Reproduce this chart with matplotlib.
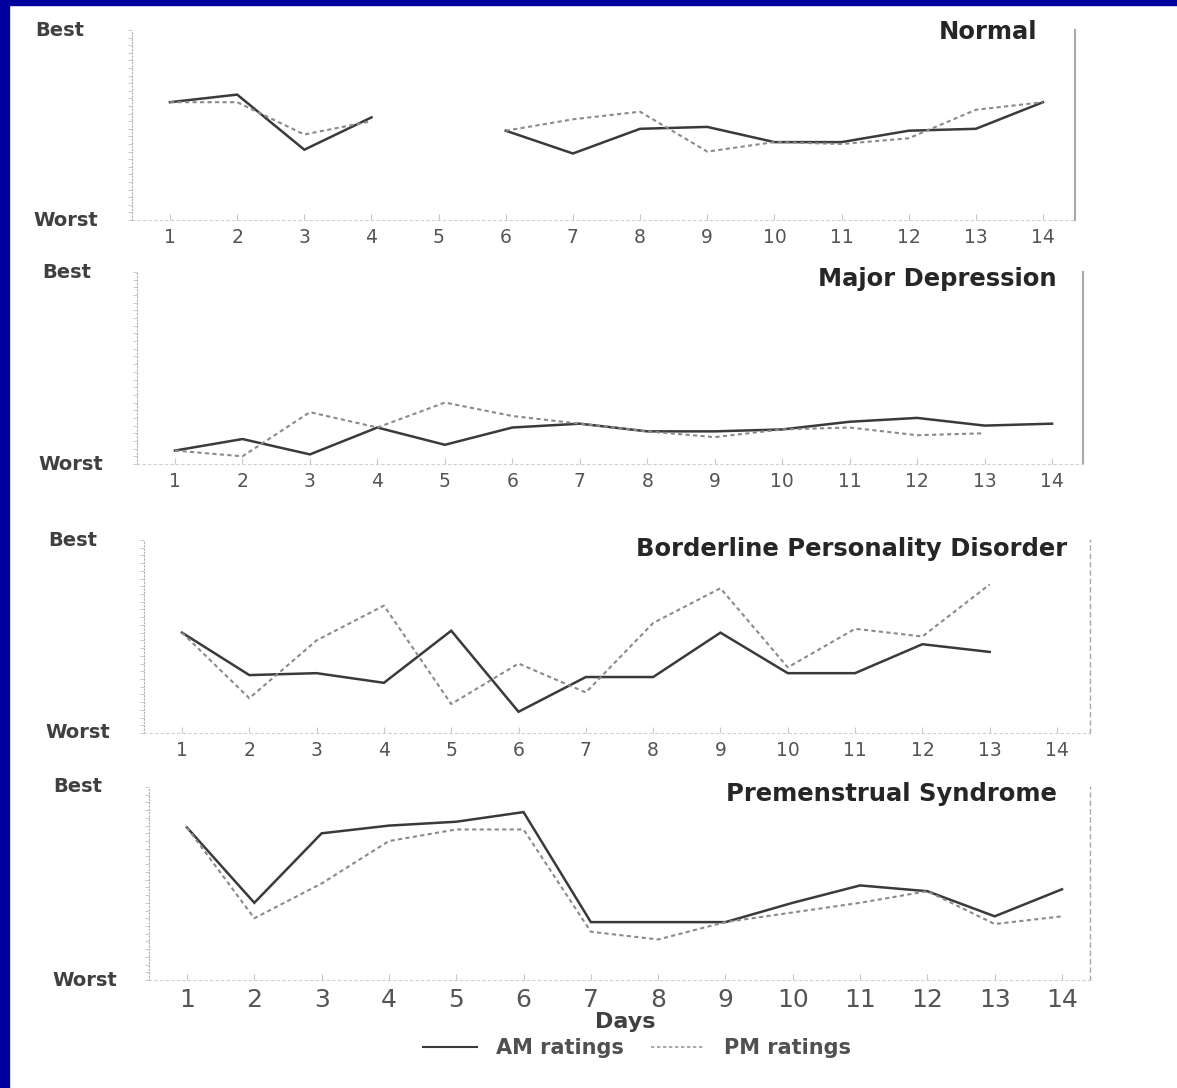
import matplotlib.pyplot as plt
import numpy as np
from matplotlib.lines import Line2D
from matplotlib.patches import Rectangle
from matplotlib.ticker import MultipleLocator
from matplotlib.transforms import blended_transform_factory

plt.rcParams['font.family'] = ['DejaVu Sans']

nan = np.nan
days = list(range(1, 15))
titles = ["Normal", "Major Depression", "Borderline Personality Disorder", "Premenstrual Syndrome"]

# ratings, 0 = Worst, 10 = Best
normal_am = [6.2, 6.6, 3.7, 5.4, nan, 4.7, 3.5, 4.8, 4.9, 4.1, 4.1, 4.7, 4.8, 6.2]
normal_pm = [6.2, 6.2, 4.5, 5.2, nan, 4.7, 5.3, 5.7, 3.6, 4.1, 4.0, 4.3, 5.8, 6.2]
depr_am = [0.7, 1.3, 0.5, 1.9, 1.0, 1.9, 2.1, 1.7, 1.7, 1.8, 2.2, 2.4, 2.0, 2.1]
depr_pm = [0.7, 0.4, 2.7, 1.9, 3.2, 2.5, 2.1, 1.7, 1.4, 1.8, 1.9, 1.5, 1.6, nan]
bpd_am = [5.2, 3.0, 3.1, 2.6, 5.3, 1.1, 2.9, 2.9, 5.2, 3.1, 3.1, 4.6, 4.2, nan]
bpd_pm = [5.2, 1.8, 4.8, 6.6, 1.5, 3.6, 2.1, 5.7, 7.5, 3.4, 5.4, 5.0, 7.7, nan]
pms_am = [7.9, 4.0, 7.6, 8.0, 8.2, 8.7, 3.0, 3.0, 3.0, 4.0, 4.9, 4.6, 3.3, 4.7]
pms_pm = [7.9, 3.2, 5.0, 7.2, 7.8, 7.8, 2.5, 2.1, 3.0, 3.5, 4.0, 4.6, 2.9, 3.3]

am_series = [normal_am, depr_am, bpd_am, pms_am]
pm_series = [normal_pm, depr_pm, bpd_pm, pms_pm]

W, H = 1177, 1088
fig = plt.figure(figsize=(W / 100, H / 100), dpi=100)
fig.patch.set_facecolor('white')
# blue slide frame from the scan
fig.patches.append(Rectangle((0, 0), 9 / W, 1, transform=fig.transFigure, color='#00009c', zorder=10))
fig.patches.append(Rectangle((0, 1 - 5 / H), 1, 5 / H, transform=fig.transFigure, color='#00009c', zorder=10))

# pixel layout of each panel: day1 x, day14 x, best y, worst y, label x (best, worst), right edge,
# tick font, title right x, title y
panels = [
    (170, 1043, 30, 220, 35, 33, 1075, 13.5, 1037, 32),
    (175, 1052, 272, 464, 42, 38, 1083, 13.5, 1057, 279),
    (182, 1057, 540, 733, 48, 45, 1090, 13.5, 1067, 549),
    (187, 1062, 787, 980, 53, 52, 1090, 18, 1057, 794),
]

for i, (x1, x14, yb, yw, lb, lw_, xr, tfs, tx, ty) in enumerate(panels):
    pxday = (x14 - x1) / 13
    xl = x1 - 38
    ax = fig.add_axes([xl / W, 1 - yw / H, (xr - xl) / W, (yw - yb) / H])
    ax.set_xlim(1 - 38 / pxday, 14 + (xr - x14) / pxday)
    ax.set_ylim(0, 10)
    ax.set_facecolor('none')

    ax.plot(days, am_series[i], color='#3a3a3a', lw=1.8, solid_joinstyle='miter')
    ax.plot(days, pm_series[i], color='#8a8a8a', lw=1.5, linestyle=(0, (2, 1.6)))

    ax.spines['top'].set_visible(False)
    ax.spines['left'].set_color('#b0b0b0')
    ax.spines['left'].set_linestyle((0, (1, 2)))
    ax.spines['bottom'].set_color('#d0d0d0')
    ax.spines['bottom'].set_linestyle((0, (2, 3)))
    ax.spines['right'].set_color('#a8a8a8')
    ax.spines['right'].set_linewidth(1.5 if i < 2 else 1.0)
    if i >= 2:
        ax.spines['right'].set_linestyle((0, (3, 3)))

    ax.set_xticks(days)
    ax.set_xticklabels([str(d) for d in days], fontsize=tfs, color='#555555')
    ax.tick_params(axis='x', length=4, direction='in', color='#c8c8c8', pad=6)
    ax.set_yticks([])
    ax.yaxis.set_minor_locator(MultipleLocator(0.4))
    ax.tick_params(axis='y', which='minor', length=3, direction='out', color='#c0c0c0')

    tr = blended_transform_factory(fig.transFigure, ax.transData)
    ax.text(lb / W, 10, "Best", transform=tr, ha='left', va='center',
            fontsize=14, fontweight='bold', color='#404040')
    ax.text(lw_ / W, 0, "Worst", transform=tr, ha='left', va='center',
            fontsize=14, fontweight='bold', color='#404040')

    fig.text(tx / W, 1 - ty / H, titles[i], ha='right', va='center',
             fontsize=17.5, fontweight='bold', color='#262626')

fig.text(625 / W, 1 - 1022 / H, "Days", ha='center', va='center',
         fontsize=16, fontweight='bold', color='#404040')

handles = [Line2D([], [], color='#3a3a3a', lw=1.5),
           Line2D([], [], color='#9a9a9a', lw=1.2, linestyle=(0, (2, 1.6)))]
fig.legend(handles, ["AM ratings", "PM ratings"], loc='center',
           bbox_to_anchor=(637 / W, 1 - 1048 / H), ncol=2, frameon=False,
           prop={'size': 15, 'weight': 'bold'}, handlelength=2.6, handletextpad=0.9,
           columnspacing=1.3, labelcolor='#505050')

plt.savefig("out.png", dpi=100)
